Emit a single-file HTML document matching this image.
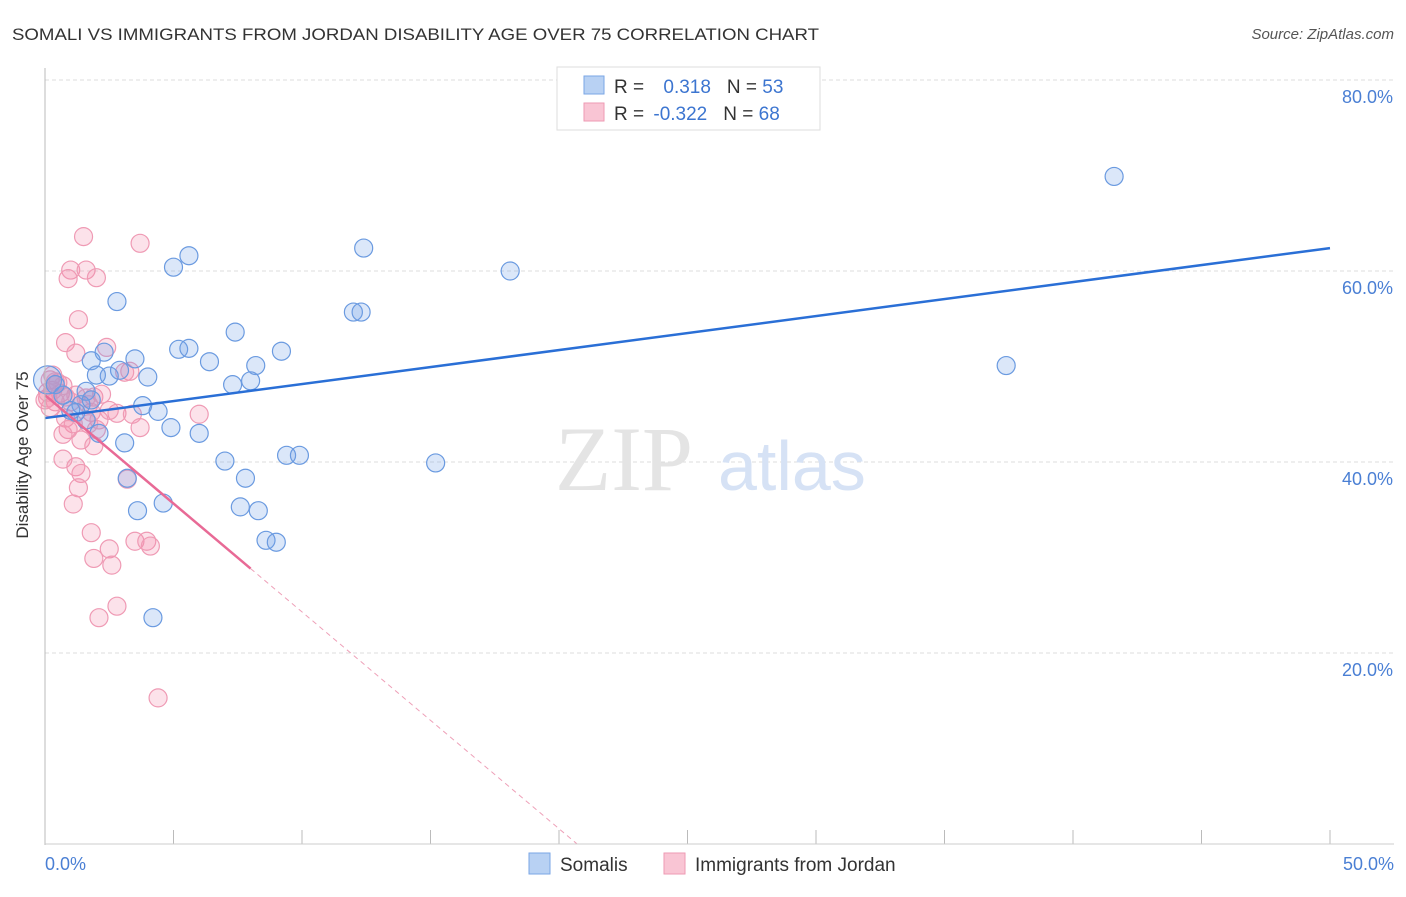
<!DOCTYPE html>
<html><head><meta charset="utf-8"><style>
body{margin:0;background:#fff;font-family:"Liberation Sans",sans-serif;}
</style></head><body>
<svg width="1406" height="892" xmlns="http://www.w3.org/2000/svg" style="font-family:'Liberation Sans',sans-serif">
<text x="12" y="40" font-size="17" fill="#333" textLength="807" lengthAdjust="spacingAndGlyphs">SOMALI VS IMMIGRANTS FROM JORDAN DISABILITY AGE OVER 75 CORRELATION CHART</text>
<text x="1394" y="39" font-size="15" fill="#555" font-style="italic" text-anchor="end">Source: ZipAtlas.com</text>
<g id="grid"></g>
<text x="555" y="490" font-size="92" fill="#e4e4e4" font-family="Liberation Serif">ZIP</text>
<text x="718" y="490" font-size="70" fill="#d6e2f5">atlas</text>
<g id="pts"></g>
<g id="lines"></g>
<line x1="45" y1="68" x2="45" y2="845" stroke="#bbb"/>
<line x1="45" y1="844" x2="1394" y2="844" stroke="#ccc"/>
<text x="28" y="455" font-size="17" fill="#333" text-anchor="middle" transform="rotate(-90 28 455)">Disability Age Over 75</text>
<text x="45" y="870" font-size="18" fill="#4a7fd4">0.0%</text>
<text x="1394" y="870" font-size="18" fill="#4a7fd4" text-anchor="end">50.0%</text>
<g>
<rect x="557" y="67" width="263" height="63" fill="#fff" stroke="#ddd"/>
<rect x="584" y="76" width="20" height="18" fill="#b8d1f3" stroke="#7aa6e6"/>
<rect x="584" y="103" width="20" height="18" fill="#f9c5d4" stroke="#ee9ab3"/>
<text x="614" y="93" font-size="19" fill="#333">R = <tspan fill="#3c75d0" dx="14">0.318</tspan><tspan fill="#333" dx="16">N = </tspan><tspan fill="#3c75d0">53</tspan></text>
<text x="614" y="120" font-size="19" fill="#333">R = <tspan fill="#3c75d0" dx="4">-0.322</tspan><tspan fill="#333" dx="16">N = </tspan><tspan fill="#3c75d0">68</tspan></text>
</g>
<g>
<rect x="529" y="853" width="21" height="21" fill="#b8d1f3" stroke="#7aa6e6"/>
<text x="560" y="871" font-size="19" fill="#333">Somalis</text>
<rect x="664" y="853" width="21" height="21" fill="#f9c5d4" stroke="#ee9ab3"/>
<text x="695" y="871" font-size="19" fill="#333">Immigrants from Jordan</text>
</g>
</svg>
<script>
const yTicks=[20,40,60,80];
const yTickLabels=["20.0%","40.0%","60.0%","80.0%"];
const xTicks=[0,5,10,15,20,25,30,35,40,45,50];
const blueX=[41.6,12.4,5.6,5.0,18.1,2.8,12.0,12.3,7.4,5.2,5.6,9.2,2.3,1.8,3.5,6.4,8.2,2.9,2.5,4.0,2.0,8.0,7.3,37.4,1.6,3.8,4.4,1.4,1.2,4.9,6.0,2.1,3.1,9.4,9.9,7.0,15.2,7.8,3.2,3.6,4.6,7.6,8.3,8.6,9.0,4.2,0.1,0.4,0.7,1.0,1.6,1.8];
const blueY=[69.9,62.4,61.6,60.4,60.0,56.8,55.7,55.7,53.6,51.8,51.9,51.6,51.5,50.6,50.8,50.5,50.1,49.6,49.0,48.9,49.1,48.5,48.1,50.1,47.4,45.9,45.3,46.0,45.2,43.6,43.0,43.0,42.0,40.7,40.7,40.1,39.9,38.3,38.3,34.9,35.7,35.3,34.9,31.8,31.6,23.7,48.6,48.1,47.0,45.4,44.4,46.5];
const pinkX=[1.5,3.7,1.0,1.6,0.9,2.0,1.3,0.8,2.4,1.2,3.3,3.1,0.2,0.5,0.3,0.6,0.1,0.4,0.8,1.2,1.9,2.2,1.7,1.8,2.8,3.4,6.0,0.2,0.8,1.1,0.9,0.7,3.7,2.1,1.4,1.9,0.7,1.2,1.4,3.2,1.3,1.1,1.8,3.5,3.96,4.1,2.5,1.9,2.6,2.8,2.1,4.4,0,0.1,0.3,0.4,0.7,1.0,1.6,2.5,2.0,1.7];
const pinkY=[63.6,62.9,60.1,60.1,59.2,59.3,54.9,52.5,52.0,51.4,49.5,49.4,48.6,48.3,47.5,47.2,46.7,46.3,46.8,47.0,46.8,47.1,46.0,45.2,45.1,45.0,45.0,45.7,44.6,44.0,43.4,42.9,43.6,44.4,42.3,41.7,40.3,39.5,38.8,38.2,37.3,35.6,32.6,31.7,31.7,31.2,30.9,29.9,29.2,24.9,23.7,15.3,46.5,47.3,49.1,48.4,48.0,46.3,46.7,45.4,43.4,44.0];
const blueTrend=[44.6,62.4];
const pinkTrend=[47.0,-2.27];
const NS="http://www.w3.org/2000/svg";
const X=v=>45+v*25.7, Y=v=>844-v*9.55;
function mk(t,a,p){const e=document.createElementNS(NS,t);for(const k in a)e.setAttribute(k,a[k]);p.appendChild(e);return e;}
const g=document.getElementById('grid');
yTicks.forEach((t,i)=>{
 const l=mk('line',{x1:45,x2:1394,y1:Y(t),y2:Y(t),stroke:'#ddd','stroke-dasharray':'4,3'},g);
 
 
 const tx=mk('text',{x:1393,y:Y(t)+23,'font-size':18,fill:'#4a7fd4','text-anchor':'end'},g);
 tx.textContent=yTickLabels[i];
 
 
});
xTicks.forEach(t=>{
 const l=mk('line',{x1:X(t),x2:X(t),y1:830,y2:844,stroke:'#bbb'},g);
 
 
});
const p=document.getElementById('pts');
pinkX.forEach((v,i)=>{
 const c=mk('circle',{cx:X(v),cy:Y(pinkY[i]),r:9,fill:'rgba(242,140,170,0.25)',stroke:'#ef9ab4','stroke-width':1.2},p);
 
 
});
blueX.forEach((v,i)=>{
 const c=mk('circle',{cx:X(v),cy:Y(blueY[i]),r:i==46?14:9,fill:'rgba(110,160,230,0.25)',stroke:'#6a9ae0','stroke-width':1.2},p);
 
 
});
const L=document.getElementById('lines');
const bl=mk('line',{x1:X(0),y1:Y(blueTrend[0]),x2:X(50),y2:Y(blueTrend[1]),stroke:'#2a6fd6','stroke-width':2.5},L);


const pz=-pinkTrend[0]/pinkTrend[1];
const ps=mk('line',{x1:X(0),y1:Y(pinkTrend[0]),x2:X(8),y2:Y(pinkTrend[0]+pinkTrend[1]*8),stroke:'#e86a96','stroke-width':2.5},L);


const pd=mk('line',{x1:X(8),y1:Y(pinkTrend[0]+pinkTrend[1]*8),x2:X(pz),y2:Y(0),stroke:'#eea0b8','stroke-width':1,'stroke-dasharray':'5,4'},L);


</script>
</body></html>
